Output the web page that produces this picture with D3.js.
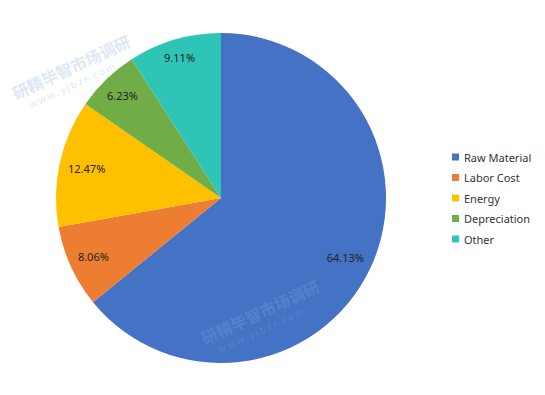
<!DOCTYPE html>
<html><head><meta charset="utf-8">
<script src="https://cdn.jsdelivr.net/npm/d3@7"></script>
<style>body{margin:0;background:#fff}svg{display:block}</style>
</head><body>
<svg id="c" width="545" height="395"></svg>
<script>
const categories = ["Raw Material","Labor Cost","Energy","Depreciation","Other"];
const values = [64.13, 8.06, 12.47, 6.23, 9.11];
const labels = ["64.13%","8.06%","12.47%","6.23%","9.11%"];
const colors = ["#4472C4","#ED7D31","#FFC000","#70AD47","#2EC4B6"];

const svg = d3.select("#c");
const cx = 221, cy = 198, R = 165;
const data = categories.map((c,i)=>({name:c,value:values[i],label:labels[i],color:colors[i]}));
const pie = d3.pie().value(d=>d.value).sort(null);
const arcs = pie(data);
const arc = d3.arc().innerRadius(0).outerRadius(R);

// faint watermarks (behind chart on white area)
const wm = [[16,100]];
wm.forEach(([x,y])=>{
  const w = svg.append("g").attr("transform",`translate(${x},${y}) rotate(-25)`).attr("opacity",0.2);
  w.append("text").attr("x",0).attr("y",0).style("font","bold 16px 'Noto Sans CJK SC'").attr("fill","#5b8fd6").text("研精毕智市场调研");
  w.append("text").attr("x",10).attr("y",14).style("font","10px 'Noto Sans'").attr("fill","#5b8fd6").attr("letter-spacing","2").text("www.yjbzr.com");
});

const g = svg.append("g").attr("transform",`translate(${cx},${cy})`);
g.selectAll("path").data(arcs).join("path").attr("d",arc).attr("fill",d=>d.data.color);

// inside-end style labels
const font = "11px 'Noto Sans', 'Liberation Sans', sans-serif";
const txt = g.selectAll("text.lab").data(arcs).join("text").attr("class","lab")
  .style("font",font).attr("fill","#222").attr("text-anchor","middle").attr("dominant-baseline","central")
  .text(d=>d.data.label);
txt.each(function(d){
  const w = this.getComputedTextLength(), h = 12;
  const a = (d.startAngle+d.endAngle)/2;
  const s = Math.sin(a), c = Math.cos(a);
  const ext = Math.abs(s)*w/2 + Math.abs(c)*h/2;
  const r = R - 8 - ext;
  d3.select(this).attr("x", r*s).attr("y", -r*c);
});

// legend
const lg = svg.append("g").attr("transform","translate(452,157)");
const items = lg.selectAll("g").data(data).join("g").attr("transform",(d,i)=>`translate(0,${i*20.5})`);
items.append("rect").attr("x",0).attr("y",-3.5).attr("width",7).attr("height",7).attr("fill",d=>d.color);
items.append("text").attr("x",12).attr("y",0).attr("dominant-baseline","central")
  .style("font","11px 'Noto Sans', 'Liberation Sans', sans-serif").attr("fill","#333").text(d=>d.name);

// watermark over the pie
const w2 = svg.append("g").attr("transform","translate(205,345) rotate(-25)").attr("opacity",0.2);
w2.append("text").attr("x",0).attr("y",0).style("font","bold 16px 'Noto Sans CJK SC'").attr("fill","#9fc0ee").text("研精毕智市场调研");
w2.append("text").attr("x",10).attr("y",14).style("font","10px 'Noto Sans'").attr("fill","#9fc0ee").attr("letter-spacing","2").text("www.yjbzr.com");
</script>
</body></html>
